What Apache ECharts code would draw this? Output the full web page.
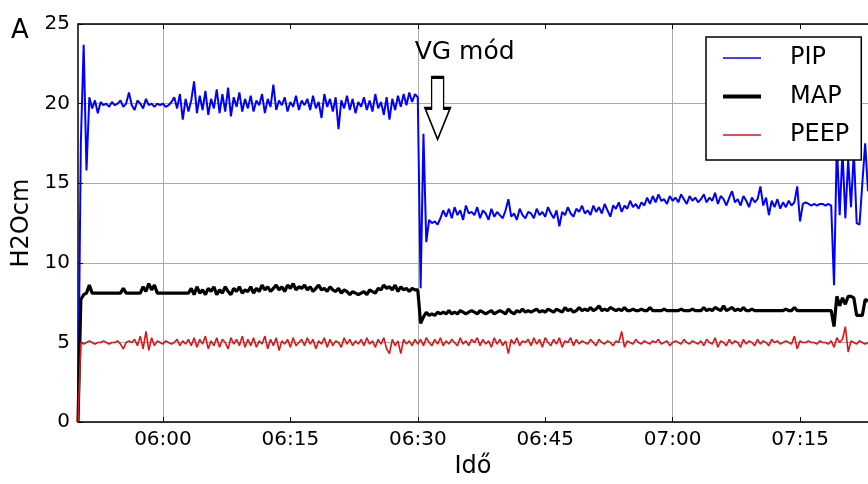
<html>
<head>
    <meta http-equiv='Content-Type' content='text/html; charset=utf-8'/>
    <title>PIP / MAP / PEEP</title>
    <style>
        body { margin: 0; padding: 0; background: #fff; }
        #main { width: 868px; height: 484px; }
    </style>
    <script src="https://cdn.jsdelivr.net/npm/echarts@6/dist/echarts.min.js"></script>
</head>
<body>
<div id="main"></div>
<script type="text/javascript">
    // mintavétel: 05:50:00-tól 20 másodpercenként, 280 pont
    let startTime = '05:50:00';
    let stepSec = 20;
    let pointCount = 280;

    let tickLabels = ['06:00', '06:15', '06:30', '06:45', '07:00', '07:15'];
    let gridTimes = ['06:00', '06:30', '07:00'];
    let yTicks = [0, 5, 10, 15, 20, 25];

    let dataPIP = [
        0, 17.5, 23.7, 15.8, 20.4, 19.7, 20.2, 19.4, 20.1, 19.9, 20.0, 19.8, 20.1, 19.9, 20.0, 20.2, 19.8, 20.0, 20.7, 19.9,
        19.6, 20.2, 20.0, 19.7, 20.3, 19.9, 20.0, 19.8, 20.0, 19.9, 20.0, 19.8, 19.9, 20.1, 20.4, 19.7, 20.6, 19.0, 20.3, 19.5,
        20.2, 21.4, 19.4, 20.5, 19.6, 20.8, 19.3, 20.3, 19.7, 20.9, 19.4, 20.6, 19.5, 21.0, 19.2, 20.4, 19.8, 20.7, 19.5, 20.3,
        19.7, 20.5, 19.5, 20.2, 19.9, 20.6, 19.4, 20.3, 19.8, 21.2, 19.6, 20.2, 19.9, 20.4, 19.5, 20.1, 19.8, 20.5, 19.6, 20.2,
        19.9, 20.3, 19.6, 20.5, 19.7, 20.1, 19.1, 20.6, 19.8, 20.3, 19.5, 20.4, 18.4, 20.2, 19.7, 20.5, 19.6, 20.3, 19.4, 20.1,
        19.8, 20.4, 19.6, 20.2, 19.5, 20.6, 19.7, 20.1, 19.3, 20.4, 19.0, 20.3, 19.6, 20.5, 19.8, 20.6, 19.9, 20.7, 20.1, 20.6,
        20.4, 8.4, 18.1, 11.3, 12.7, 12.5, 12.6, 12.4, 12.8, 13.3, 12.9, 13.4, 12.8, 13.5, 13.0, 13.3, 12.7, 13.6, 13.1, 13.2,
        13.0, 13.5, 12.8, 13.3, 13.1, 12.7, 13.4, 12.9, 13.2, 13.0, 12.8, 13.3, 14.0, 12.9, 13.1, 12.7, 13.4, 13.0, 12.8, 13.2,
        13.1, 12.8, 13.4, 13.0, 13.2, 12.9, 13.5, 13.1, 12.8, 13.3, 12.3, 13.2, 13.0, 13.5, 13.1, 12.9, 13.4, 13.2, 13.6, 13.1,
        13.3, 13.0, 13.6, 13.2, 13.5, 13.1, 13.7, 13.3, 12.9, 13.6, 13.4, 13.8, 13.2, 13.6, 13.4, 13.9, 13.5, 13.7, 13.4, 13.8,
        13.6, 14.1, 13.7, 14.2, 13.8, 14.3, 13.9, 14.0, 13.7, 14.2, 13.9, 14.1, 13.8, 14.3, 14.0, 13.7, 14.2, 13.9, 14.1, 13.8,
        14.0, 14.3, 13.8, 14.1, 13.9, 14.4, 13.7, 14.2, 14.0, 13.6, 14.1, 14.5, 13.8, 14.0, 13.6, 14.2, 13.9, 13.5, 14.1, 13.8,
        14.0, 14.8, 13.6, 14.1, 13.0, 13.9, 13.5, 14.0, 13.4, 13.8, 13.5, 13.9, 13.6, 13.8, 14.8, 12.6, 13.7, 13.8, 13.7, 13.6,
        13.7, 13.6, 13.7, 13.7, 13.6, 13.7, 13.6, 8.6, 17.5, 13.0, 17.0, 12.8, 16.5, 13.5, 17.0, 12.5, 12.4, 15.0, 17.5, 14.5
    ];

    let dataMAP = [
        0, 7.7, 8.0, 8.1, 8.6, 8.1, 8.1, 8.1, 8.1, 8.1, 8.1, 8.1, 8.1, 8.1, 8.1, 8.1, 8.4, 8.1, 8.1, 8.1,
        8.1, 8.1, 8.1, 8.5, 8.2, 8.7, 8.3, 8.6, 8.1, 8.1, 8.1, 8.1, 8.1, 8.1, 8.1, 8.1, 8.1, 8.1, 8.1, 8.1,
        8.4, 8.0, 8.5, 8.1, 8.3, 8.0, 8.4, 8.2, 8.5, 8.0, 8.3, 8.1, 8.5, 8.2, 8.0, 8.4, 8.2, 8.5, 8.1, 8.3,
        8.2, 8.5, 8.1, 8.4, 8.2, 8.6, 8.3, 8.5, 8.2, 8.4, 8.6, 8.3, 8.5, 8.2, 8.6, 8.4, 8.7, 8.3, 8.5, 8.4,
        8.6, 8.3, 8.5, 8.2, 8.4, 8.6, 8.3, 8.4, 8.2, 8.5, 8.3, 8.2, 8.4, 8.1, 8.3, 8.2, 8.0, 8.2, 8.1, 8.0,
        8.1, 8.2, 8.0, 8.3, 8.2, 8.1, 8.4, 8.3, 8.6, 8.4, 8.5, 8.3, 8.6, 8.2, 8.5, 8.3, 8.4, 8.2, 8.4, 8.3,
        8.3, 6.2, 6.6, 6.9, 6.7, 6.8, 6.7, 6.9, 6.8, 6.9, 6.8, 7.0, 6.8, 6.9, 6.8, 7.0, 6.9, 6.8, 6.9, 7.0,
        6.9, 6.8, 7.0, 6.9, 6.8, 6.9, 7.0, 6.8, 6.9, 7.0, 6.9, 6.8, 7.1, 6.9, 6.8, 7.0, 6.9, 7.1, 6.9, 7.0,
        6.9, 7.0, 7.1, 6.9, 7.0, 6.9, 7.1, 7.0, 6.9, 7.1, 7.0, 6.9, 7.2, 7.0, 7.1, 6.9, 7.0, 7.2, 7.0, 7.1,
        7.0, 7.2, 7.0, 7.1, 7.3, 7.0, 7.1, 7.0, 7.2, 7.1, 7.0, 7.1, 7.0, 7.2, 7.0, 7.0, 7.1, 7.0, 7.0, 7.1,
        7.0, 7.0, 7.2, 7.0, 7.0, 7.0, 7.0, 7.1, 7.0, 7.0, 7.0, 7.0, 7.0, 7.1, 7.0, 7.0, 7.0, 7.1, 7.0, 7.0,
        7.0, 7.2, 7.0, 7.1, 7.0, 7.2, 7.1, 7.0, 7.3, 7.0, 7.1, 7.2, 7.0, 7.1, 7.0, 7.2, 7.0, 7.0, 7.1, 7.0,
        7.0, 7.0, 7.0, 7.0, 7.0, 7.0, 7.0, 7.0, 7.0, 7.0, 7.1, 7.0, 7.0, 7.2, 7.0, 7.0, 7.0, 7.0, 7.0, 7.0,
        7.0, 7.0, 7.0, 7.0, 7.0, 7.0, 7.0, 6.0, 7.9, 7.3, 7.8, 7.4, 7.9, 7.9, 7.8, 6.7, 6.7, 6.7, 7.7, 7.6
    ];

    let dataPEEP = [
        0, 5.0, 4.9, 5.0, 5.1, 5.0, 4.9, 5.0, 5.0, 5.1, 5.0, 4.9, 5.0, 5.0, 5.1, 4.9, 4.6, 5.0, 5.1, 5.0,
        5.2, 4.8, 5.4, 4.6, 5.7, 4.5, 5.3, 4.8, 5.1, 5.0, 4.9, 5.1, 5.0, 4.9, 5.0, 5.2, 4.8, 5.1, 4.9, 5.2,
        4.8, 5.3, 4.7, 5.2, 4.9, 5.4, 4.6, 5.1, 4.8, 5.3, 4.7, 5.2, 5.0, 4.6, 5.3, 4.9, 5.2, 4.8, 5.4, 4.7,
        5.2, 4.8, 5.3, 4.7, 5.1, 4.9, 5.4, 4.6, 5.2, 4.8, 5.3, 4.5, 5.1, 4.9, 5.2, 4.7, 5.3, 4.8, 5.0, 5.2,
        4.8, 5.3, 4.9, 5.2, 4.6, 5.1, 4.9, 5.3, 4.7, 5.2, 4.8, 5.1, 5.0, 4.7, 5.3, 4.9, 5.2, 4.8, 5.1, 4.9,
        5.2, 4.8, 5.3, 4.9, 5.1, 4.7, 5.2, 4.9, 5.3, 4.6, 4.3, 5.2, 4.8, 5.1, 4.3, 5.2, 4.9, 5.1, 4.8, 5.2,
        4.9, 5.2, 4.8, 5.3, 5.0, 4.8, 5.2, 4.9, 5.3, 4.8, 5.1, 4.9, 5.2, 5.0, 4.8, 5.3, 4.9, 5.1, 4.8, 5.2,
        5.0, 5.3, 4.8, 5.2, 4.9, 5.1, 4.7, 5.3, 4.9, 5.2, 4.8, 5.1, 4.3, 5.2, 4.9, 5.3, 4.8, 5.1, 5.0, 5.2,
        4.8, 5.3, 4.9, 5.2, 4.7, 5.3, 5.0, 4.8, 5.2, 4.9, 5.3, 4.7, 5.1, 5.0, 5.3, 4.8, 5.2, 4.9, 5.1, 5.0,
        4.9, 5.2, 5.0, 4.8, 5.2, 5.0, 4.9, 5.1, 5.0, 4.8, 5.1, 5.0, 5.7, 4.7, 5.1, 5.0, 4.9, 5.2, 5.0, 4.9,
        5.1, 5.0, 4.9, 5.1, 5.0, 5.2, 4.9, 5.0, 5.1, 4.8, 5.0, 5.1, 5.0, 4.9, 5.2, 5.0, 4.9, 5.1, 5.0, 4.9,
        5.1, 4.8, 5.2, 5.0, 4.9, 5.3, 4.7, 5.1, 5.0, 4.8, 5.2, 4.9, 5.1, 5.0, 4.7, 5.2, 4.9, 5.1, 5.0, 4.8,
        5.2, 4.9, 5.1, 5.0, 4.8, 5.2, 5.0, 5.1, 4.9, 5.0, 5.1, 5.0, 4.9, 5.4, 4.6, 5.1, 5.0, 5.0, 5.1, 5.0,
        5.0, 4.9, 5.1, 5.0, 5.0, 4.9, 5.1, 4.7, 5.3, 5.0, 5.2, 6.0, 4.4, 5.1, 5.0, 4.9, 5.1, 5.0, 4.9, 5.0
    ];

    // VG mód nyíl helye (idő, H2Ocm)
    let arrowAt = ['06:32:20', 19.7];

    function pad2(n) { return (n < 10 ? '0' : '') + n; }

    let times = [];
    let p = startTime.split(':').map(Number);
    let t0 = p[0] * 3600 + p[1] * 60 + p[2];
    for (let i = 0; i < pointCount; i++) {
        let s = t0 + i * stepSec;
        times.push(pad2(Math.floor(s / 3600)) + ':' + pad2(Math.floor(s / 60) % 60) + ':' + pad2(s % 60));
    }

    function isTick(i, v) { return tickLabels.indexOf(v.slice(0, 5)) >= 0 && v.slice(6) === '00'; }
    function isGrid(i, v) { return gridTimes.indexOf(v.slice(0, 5)) >= 0 && v.slice(6) === '00'; }

    const FONT = 'DejaVu Sans';
    let myChart = echarts.init(document.getElementById('main'), null, {renderer: 'canvas'});

    let option = {
        animation: false,
        backgroundColor: '#fff',
        textStyle: {fontFamily: FONT, color: '#000'},
        grid: {left: 78, right: 0, top: 24, bottom: 49},
        legend: {
            data: [
                {name: 'PIP', icon: 'path://M0,0H38V1.5H0Z'},
                {name: 'MAP', icon: 'path://M0,0H38V4H0Z'},
                {name: 'PEEP', icon: 'path://M0,0H38V1.5H0Z'}
            ],
            orient: 'vertical',
            left: 706,
            top: 37,
            padding: [7, 12, 11, 17],
            itemWidth: 38,
            itemHeight: 14,
            itemGap: 10.5,
            backgroundColor: '#fff',
            borderColor: '#000',
            borderWidth: 1.5,
            borderRadius: 0,
            textStyle: {fontFamily: FONT, fontSize: 24, color: '#000', lineHeight: 28, padding: [0, 0, 0, 24]}
        },
        graphic: [
            {type: 'text', left: 11, top: 18, style: {text: 'A', font: '26px "DejaVu Sans"', fill: '#000'}}
        ],
        xAxis: [
            {
                type: 'category',
                data: times,
                boundaryGap: false,
                name: 'Idő',
                nameLocation: 'middle',
                nameGap: 29,
                nameTextStyle: {fontFamily: FONT, fontSize: 24, color: '#000'},
                axisLine: {lineStyle: {color: '#000', width: 1.5}},
                axisTick: {inside: true, length: 5, interval: isTick, lineStyle: {color: '#000'}},
                axisLabel: {
                    interval: isTick, margin: 8, fontSize: 20, color: '#000', fontFamily: FONT,
                    formatter: v => v.slice(0, 5)
                },
                splitLine: {show: true, interval: isGrid, lineStyle: {color: '#aaa', width: 1}}
            },
            {
                type: 'category',
                data: times,
                boundaryGap: false,
                position: 'top',
                axisLine: {lineStyle: {color: '#000', width: 1.5}},
                axisTick: {inside: true, length: 5, interval: isTick, lineStyle: {color: '#000'}},
                axisLabel: {show: false},
                splitLine: {show: false}
            }
        ],
        yAxis: {
            type: 'value',
            min: yTicks[0],
            max: yTicks[yTicks.length - 1],
            interval: 5,
            name: 'H2Ocm',
            nameLocation: 'middle',
            nameGap: 42,
            nameTextStyle: {fontFamily: FONT, fontSize: 24, color: '#000'},
            axisLine: {show: true, lineStyle: {color: '#000', width: 1.5}},
            axisTick: {show: true, inside: true, length: 5, lineStyle: {color: '#000'}},
            axisLabel: {margin: 8, fontSize: 20, color: '#000', fontFamily: FONT},
            splitLine: {show: true, lineStyle: {color: '#aaa', width: 1}}
        },
        series: [
            {
                name: 'PIP',
                type: 'line',
                data: dataPIP,
                symbol: 'none',
                color: '#0000ff',
                lineStyle: {color: '#0000ff', width: 2},
                markPoint: {
                    silent: true,
                    data: [{
                        coord: arrowAt,
                        symbol: 'path://M6.5,0 L18.5,0 L18.5,31 L25,31 L12.5,62 L0,31 L6.5,31 Z',
                        symbolSize: [25, 62],
                        itemStyle: {color: '#fff', borderColor: '#000', borderWidth: 2},
                        label: {
                            show: true, formatter: 'VG mód', position: 'top', distance: 5,
                            offset: [27, -6], fontSize: 25, color: '#000', fontFamily: FONT
                        }
                    }]
                }
            },
            {
                name: 'MAP',
                type: 'line',
                data: dataMAP,
                symbol: 'none',
                color: '#000',
                lineStyle: {color: '#000', width: 3.2}
            },
            {
                name: 'PEEP',
                type: 'line',
                data: dataPEEP,
                symbol: 'none',
                color: '#dd1515',
                lineStyle: {color: '#dd1515', width: 1.6}
            }
        ]
    };

    myChart.setOption(option);
</script>
</body>
</html>
